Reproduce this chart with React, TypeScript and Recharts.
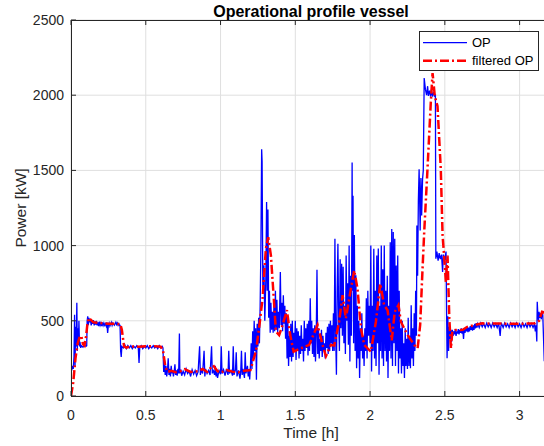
import { LineChart, Line, XAxis, YAxis, CartesianGrid } from 'recharts';

const opRampUp: [number, number][] = [
  [0, 190], [0.005, 170], [0.01, 200], [0.015, 180], [0.02, 260], [0.024, 540], [0.027, 200],
  [0.031, 460], [0.035, 330], [0.039, 620], [0.042, 300], [0.046, 450], [0.05, 340], [0.053, 500],
  [0.057, 330], [0.06, 360], [0.065, 320], [0.07, 335], [0.08, 325], [0.09, 340], [0.1, 330],
  [0.105, 335], [0.108, 500], [0.112, 530], [0.116, 470], [0.12, 520],
];

const opCruiseHigh: [number, number][] = [
  [0.125, 490], [0.13, 510], [0.135, 470], [0.14, 500], [0.145, 480], [0.15, 505], [0.155, 470],
  [0.16, 495], [0.165, 475], [0.17, 500], [0.175, 470], [0.18, 490], [0.185, 465], [0.19, 495],
  [0.195, 470], [0.2, 485], [0.205, 465], [0.21, 490], [0.215, 470], [0.22, 485], [0.225, 470],
  [0.23, 480], [0.235, 465], [0.24, 490], [0.245, 420], [0.25, 470], [0.255, 485], [0.26, 465],
  [0.27, 490], [0.275, 470], [0.28, 485], [0.29, 470], [0.3, 490], [0.305, 475], [0.31, 485],
  [0.315, 470], [0.32, 480], [0.325, 470], [0.328, 470],
];

const opCruiseMid: [number, number][] = [
  [0.332, 300], [0.336, 260], [0.34, 330], [0.35, 320], [0.36, 340], [0.37, 315], [0.38, 335],
  [0.39, 320], [0.4, 335], [0.41, 315], [0.42, 330], [0.43, 320], [0.44, 335], [0.45, 320],
  [0.455, 220], [0.46, 325], [0.47, 335], [0.48, 315], [0.49, 330], [0.5, 320], [0.51, 335],
  [0.52, 315], [0.53, 330], [0.54, 320], [0.55, 335], [0.56, 320], [0.57, 330], [0.58, 315],
  [0.59, 335], [0.6, 320], [0.61, 330], [0.615, 320],
];

const opLowLoad: [number, number][] = [
  [0.62, 160], [0.625, 240], [0.63, 140], [0.635, 200], [0.64, 130], [0.645, 170], [0.65, 250],
  [0.655, 140], [0.66, 180], [0.665, 130], [0.67, 200], [0.675, 150], [0.68, 170], [0.685, 130],
  [0.69, 160], [0.695, 210], [0.7, 140], [0.705, 170], [0.71, 135], [0.715, 180], [0.72, 150],
  [0.725, 415], [0.728, 150], [0.735, 175], [0.74, 135], [0.75, 165], [0.76, 140], [0.77, 180],
  [0.78, 150], [0.79, 165], [0.8, 130], [0.81, 175], [0.82, 145], [0.83, 170], [0.84, 135],
  [0.85, 160], [0.86, 330], [0.865, 140], [0.87, 175], [0.88, 150], [0.89, 300], [0.895, 130],
  [0.9, 180], [0.91, 150], [0.92, 170], [0.93, 140], [0.94, 330], [0.945, 150], [0.95, 175],
  [0.96, 140], [0.965, 200], [0.97, 130], [0.975, 160], [0.98, 120], [0.99, 170], [1.0, 145],
  [1.005, 330], [1.01, 150], [1.02, 175], [1.03, 135], [1.04, 180], [1.05, 140], [1.055, 300],
  [1.06, 150], [1.07, 170], [1.08, 135], [1.085, 330], [1.09, 140], [1.1, 175], [1.105, 290],
  [1.11, 130], [1.12, 170], [1.13, 115], [1.135, 160], [1.14, 300], [1.145, 140], [1.15, 180],
  [1.16, 120], [1.165, 290], [1.17, 150], [1.18, 200], [1.185, 130], [1.19, 180], [1.195, 110],
  [1.2, 200],
];

const opManoeuvre: [number, number][] = [
  [1.205, 350], [1.21, 180], [1.215, 430], [1.22, 250], [1.225, 500], [1.23, 300], [1.235, 450],
  [1.24, 108], [1.245, 480], [1.25, 330], [1.255, 520], [1.26, 350], [1.265, 600], [1.27, 1000],
  [1.275, 1640], [1.278, 1560], [1.283, 700], [1.29, 870], [1.296, 500], [1.303, 780],
  [1.308, 1290], [1.312, 700], [1.317, 1240], [1.322, 520], [1.327, 700], [1.332, 420],
  [1.337, 620], [1.342, 440], [1.347, 560], [1.352, 420], [1.357, 600], [1.362, 430], [1.367, 700],
  [1.372, 440], [1.377, 640], [1.382, 420], [1.387, 560], [1.393, 450], [1.4, 825], [1.405, 470],
  [1.41, 620], [1.415, 430], [1.42, 670], [1.425, 480], [1.43, 600], [1.435, 380], [1.44, 550],
  [1.445, 250], [1.45, 500], [1.455, 200], [1.46, 400], [1.465, 260], [1.47, 480], [1.475, 230],
  [1.48, 500], [1.485, 260], [1.49, 420], [1.495, 300], [1.5, 500], [1.505, 240], [1.51, 450],
  [1.515, 300], [1.52, 430], [1.525, 250], [1.53, 400], [1.535, 280], [1.54, 470], [1.545, 300],
  [1.55, 380], [1.555, 230], [1.56, 500], [1.565, 300], [1.57, 450], [1.575, 320], [1.58, 480],
  [1.585, 270], [1.59, 500], [1.595, 300], [1.6, 650], [1.605, 350], [1.61, 500], [1.615, 280],
  [1.62, 450], [1.625, 260], [1.63, 470], [1.635, 230], [1.64, 400], [1.645, 840], [1.65, 280],
  [1.655, 450], [1.66, 250], [1.665, 380], [1.67, 300], [1.675, 440], [1.68, 260], [1.685, 400],
  [1.69, 300], [1.695, 350], [1.7, 250], [1.705, 420], [1.71, 320], [1.715, 460], [1.72, 280],
  [1.725, 480], [1.73, 300], [1.735, 500], [1.74, 350], [1.745, 470], [1.75, 300], [1.755, 550],
];

const opHeavy: [number, number][] = [
  [1.76, 300], [1.765, 1045], [1.77, 400], [1.775, 141], [1.78, 700], [1.785, 1012], [1.79, 500],
  [1.795, 300], [1.8, 910], [1.805, 450], [1.81, 880], [1.815, 400], [1.82, 860], [1.825, 350],
  [1.83, 600], [1.835, 280], [1.84, 934], [1.845, 500], [1.85, 750], [1.855, 340], [1.86, 1000],
  [1.865, 229], [1.87, 800], [1.875, 400], [1.88, 1552], [1.883, 700], [1.886, 1331], [1.89, 350],
  [1.895, 1071], [1.9, 300], [1.905, 802], [1.91, 185], [1.915, 600], [1.92, 250], [1.925, 500],
  [1.93, 119], [1.935, 450], [1.94, 300], [1.945, 550], [1.95, 250], [1.955, 400], [1.96, 200],
  [1.965, 450], [1.97, 300], [1.975, 650], [1.98, 250], [1.985, 700], [1.99, 400], [1.995, 600],
  [2.0, 350], [2.005, 1000], [2.01, 163], [2.015, 600], [2.02, 300], [2.025, 979], [2.03, 250],
  [2.035, 700], [2.04, 200], [2.045, 934], [2.05, 350], [2.055, 980], [2.06, 141], [2.065, 600],
  [2.07, 300], [2.075, 1000], [2.08, 250], [2.085, 843], [2.09, 200], [2.095, 1000], [2.1, 300],
  [2.105, 700], [2.11, 230], [2.115, 800], [2.12, 120], [2.125, 600], [2.13, 300], [2.135, 1023],
  [2.14, 250], [2.145, 1111], [2.15, 200], [2.155, 1090], [2.16, 350], [2.165, 1045], [2.17, 200],
  [2.175, 868], [2.18, 300], [2.185, 934], [2.19, 150], [2.195, 700], [2.2, 250], [2.205, 450],
  [2.21, 150], [2.215, 500], [2.22, 200], [2.225, 350], [2.23, 119], [2.235, 450], [2.24, 200],
  [2.245, 380], [2.25, 180], [2.255, 520], [2.26, 200], [2.265, 400], [2.27, 185], [2.275, 604],
  [2.28, 250], [2.285, 450], [2.29, 200], [2.295, 550], [2.3, 300], [2.305, 700], [2.31, 400],
  [2.313, 1133], [2.318, 800], [2.323, 1300], [2.328, 1508], [2.335, 1100], [2.34, 1450],
  [2.345, 1200], [2.351, 1442], [2.356, 1500], [2.362, 2114], [2.37, 2040], [2.378, 2000],
  [2.385, 2060], [2.39, 1995], [2.398, 2030], [2.405, 1990], [2.41, 2037], [2.418, 1990],
  [2.425, 2020], [2.432, 1995], [2.437, 2000],
];

const opTransit: [number, number][] = [
  [2.44, 913], [2.447, 960], [2.455, 900], [2.462, 950], [2.47, 910], [2.478, 940], [2.485, 825],
  [2.49, 940], [2.5, 905], [2.508, 960], [2.512, 540], [2.515, 251], [2.52, 530], [2.525, 300],
  [2.53, 460], [2.535, 380], [2.54, 440], [2.545, 360], [2.55, 440], [2.555, 400], [2.56, 430],
  [2.565, 410], [2.57, 445], [2.575, 400], [2.58, 430], [2.585, 415], [2.59, 445], [2.595, 410],
  [2.6, 440], [2.605, 420], [2.61, 450], [2.615, 415], [2.62, 440], [2.625, 380], [2.63, 450],
  [2.635, 420], [2.64, 455], [2.645, 430], [2.65, 460], [2.655, 425], [2.66, 455], [2.665, 430],
  [2.67, 465], [2.675, 440], [2.68, 460], [2.685, 435], [2.69, 470], [2.695, 440], [2.7, 480],
  [2.705, 450], [2.71, 485], [2.715, 455], [2.72, 480], [2.73, 455], [2.74, 485], [2.75, 460],
  [2.76, 480], [2.77, 455], [2.78, 485], [2.79, 460], [2.8, 480], [2.81, 455], [2.82, 485],
  [2.83, 460], [2.84, 480], [2.85, 455], [2.86, 485], [2.87, 400], [2.875, 465], [2.88, 480],
  [2.89, 455], [2.9, 485], [2.91, 460], [2.92, 480], [2.93, 455], [2.94, 485], [2.95, 460],
  [2.96, 480], [2.97, 455], [2.98, 485], [2.99, 460], [3.0, 480], [3.01, 455], [3.02, 485],
  [3.03, 460], [3.04, 480], [3.05, 455], [3.06, 485], [3.07, 460], [3.08, 480], [3.09, 455],
  [3.1, 480], [3.105, 430], [3.11, 470], [3.115, 362], [3.118, 626], [3.122, 540], [3.127, 500],
  [3.13, 560], [3.135, 520], [3.14, 550], [3.145, 510], [3.15, 560], [3.155, 540], [3.165, 231],
];

const filteredOp: [number, number][] = [
  [0, 0], [0.015, 90], [0.03, 250], [0.045, 350], [0.06, 400], [0.07, 395], [0.08, 345],
  [0.09, 335], [0.1, 390], [0.11, 480], [0.12, 520], [0.135, 505], [0.15, 490], [0.2, 485],
  [0.25, 480], [0.3, 480], [0.33, 478], [0.34, 440], [0.355, 330], [0.37, 322], [0.4, 330],
  [0.45, 328], [0.5, 330], [0.55, 332], [0.6, 328], [0.615, 305], [0.63, 200], [0.645, 160],
  [0.67, 168], [0.7, 158], [0.73, 165], [0.76, 178], [0.8, 160], [0.85, 165], [0.88, 180],
  [0.91, 160], [0.95, 205], [0.98, 165], [1.0, 155], [1.04, 172], [1.08, 162], [1.12, 158],
  [1.16, 168], [1.2, 172], [1.237, 300], [1.26, 470], [1.281, 648], [1.303, 979], [1.319, 1056],
  [1.337, 934], [1.359, 604], [1.37, 430], [1.392, 405], [1.415, 472], [1.444, 571], [1.466, 405],
  [1.489, 295], [1.537, 317], [1.593, 340], [1.649, 472], [1.682, 340], [1.705, 265], [1.738, 340],
  [1.76, 335], [1.793, 494], [1.816, 670], [1.838, 516], [1.872, 714], [1.894, 835], [1.916, 714],
  [1.939, 450], [1.961, 340], [2.005, 295], [2.039, 494], [2.068, 747], [2.094, 604], [2.117, 570],
  [2.145, 370], [2.165, 560], [2.19, 604], [2.206, 494], [2.251, 406], [2.295, 340], [2.318, 317],
  [2.335, 472], [2.351, 847], [2.362, 1089], [2.384, 1508], [2.406, 1949], [2.418, 2147],
  [2.433, 1993], [2.451, 1927], [2.473, 1508], [2.485, 1067], [2.495, 934], [2.507, 759],
  [2.518, 934], [2.53, 516], [2.541, 317], [2.55, 428], [2.57, 439], [2.62, 440], [2.65, 460],
  [2.7, 472], [2.75, 483], [3.0, 480], [3.1, 483], [3.13, 500], [3.15, 560], [3.165, 555],
];

const timeTicks = [0, 0.5, 1, 1.5, 2, 2.5, 3];
const powerTicks = [0, 500, 1000, 1500, 2000, 2500];
const seriesNames = ['OP', 'filtered OP'];

const toRows = (pts: [number, number][]) => pts.map(([t, p]) => ({ t, p }));

const opRows = toRows([
  ...opRampUp, ...opCruiseHigh, ...opCruiseMid, ...opLowLoad,
  ...opManoeuvre, ...opHeavy, ...opTransit,
]);
const filteredRows = toRows(filteredOp);

const INK = '#262626';
const FONT = '"Liberation Sans", Arial, Helvetica, sans-serif';
const BLUE = '#0000ff';
const RED = '#ff0000';

// plot box (pixels) -- right edge sits past the picture edge and gets clipped like in the original
const LEFT = 71;
const TOP = 20;
const BOTTOM = 396;
const RIGHT = 551;
const CHART_W = 552;
const CHART_H = 446;
const DASH = '9 3 2 3';
const BLUE_W = 1.3;

const XTick = (props: any) => {
  const { x, payload } = props;
  return (
    <g>
      <line x1={x} x2={x} y1={BOTTOM} y2={BOTTOM - 5} stroke={INK} />
      <line x1={x} x2={x} y1={TOP} y2={TOP + 5} stroke={INK} />
      <text x={x} y={420} textAnchor="middle" fontSize={14} fill={INK} fontFamily={FONT}>
        {payload.value}
      </text>
    </g>
  );
};

const YTick = (props: any) => {
  const { y, payload } = props;
  return (
    <g>
      <line x1={LEFT} x2={LEFT + 5} y1={y} y2={y} stroke={INK} />
      <text x={64} y={y} dy="0.36em" textAnchor="end" fontSize={14} fill={INK} fontFamily={FONT}>
        {payload.value}
      </text>
    </g>
  );
};

export default function App() {
  return (
    <div style={{ position: 'absolute', left: 0, top: 0, width: 544, height: 446, overflow: 'hidden', background: '#fff' }}>
      <LineChart width={CHART_W} height={CHART_H} margin={{ top: TOP, right: CHART_W - RIGHT, left: 0, bottom: 0 }}>
        <CartesianGrid stroke="#dfdfdf" strokeWidth={1} />
        <XAxis
          dataKey="t"
          type="number"
          domain={[0, 3.21]}
          ticks={timeTicks}
          interval={0}
          height={CHART_H - BOTTOM}
          axisLine={false}
          tickLine={false}
          tick={<XTick />}
          allowDataOverflow
        />
        <YAxis
          type="number"
          domain={[0, 2500]}
          ticks={powerTicks}
          interval={0}
          width={LEFT}
          axisLine={false}
          tickLine={false}
          tick={<YTick />}
          allowDataOverflow
        />
        <Line
          data={opRows}
          dataKey="p"
          name={seriesNames[0]}
          stroke={BLUE}
          strokeWidth={BLUE_W}
          dot={false}
          isAnimationActive={false}
        />
        <Line
          data={filteredRows}
          dataKey="p"
          name={seriesNames[1]}
          stroke={RED}
          strokeWidth={2.5}
          strokeDasharray={DASH}
          dot={false}
          isAnimationActive={false}
        />
      </LineChart>
      <svg width={544} height={446} style={{ position: 'absolute', left: 0, top: 0, pointerEvents: 'none' }}>
        <rect x={LEFT + 0.5} y={TOP + 0.5} width={RIGHT - LEFT - 1} height={BOTTOM - TOP} fill="none" stroke={INK} />
        <text x={311} y={16.5} textAnchor="middle" fontSize={16} fontWeight="bold" fill="#000" fontFamily={FONT}>
          Operational profile vessel
        </text>
        <text x={311} y={438} textAnchor="middle" fontSize={15.5} fill={INK} fontFamily={FONT}>
          Time [h]
        </text>
        <text
          x={0}
          y={0}
          transform={`translate(26 ${(TOP + BOTTOM) / 2}) rotate(-90)`}
          textAnchor="middle"
          fontSize={15.5}
          fill={INK}
          fontFamily={FONT}
        >
          Power [kW]
        </text>
        <g>
          <rect x={419.5} y={31.5} width={119} height={39} fill="#fff" stroke={INK} />
          <line x1={423} x2={467} y1={42.7} y2={42.7} stroke={BLUE} strokeWidth={BLUE_W} />
          <text x={472} y={47.3} fontSize={13} fill="#000" fontFamily={FONT}>{seriesNames[0]}</text>
          <line x1={423} x2={467} y1={60.7} y2={60.7} stroke={RED} strokeWidth={2.5} strokeDasharray={DASH} />
          <text x={472} y={65.3} fontSize={13} fill="#000" fontFamily={FONT}>{seriesNames[1]}</text>
        </g>
      </svg>
    </div>
  );
}
